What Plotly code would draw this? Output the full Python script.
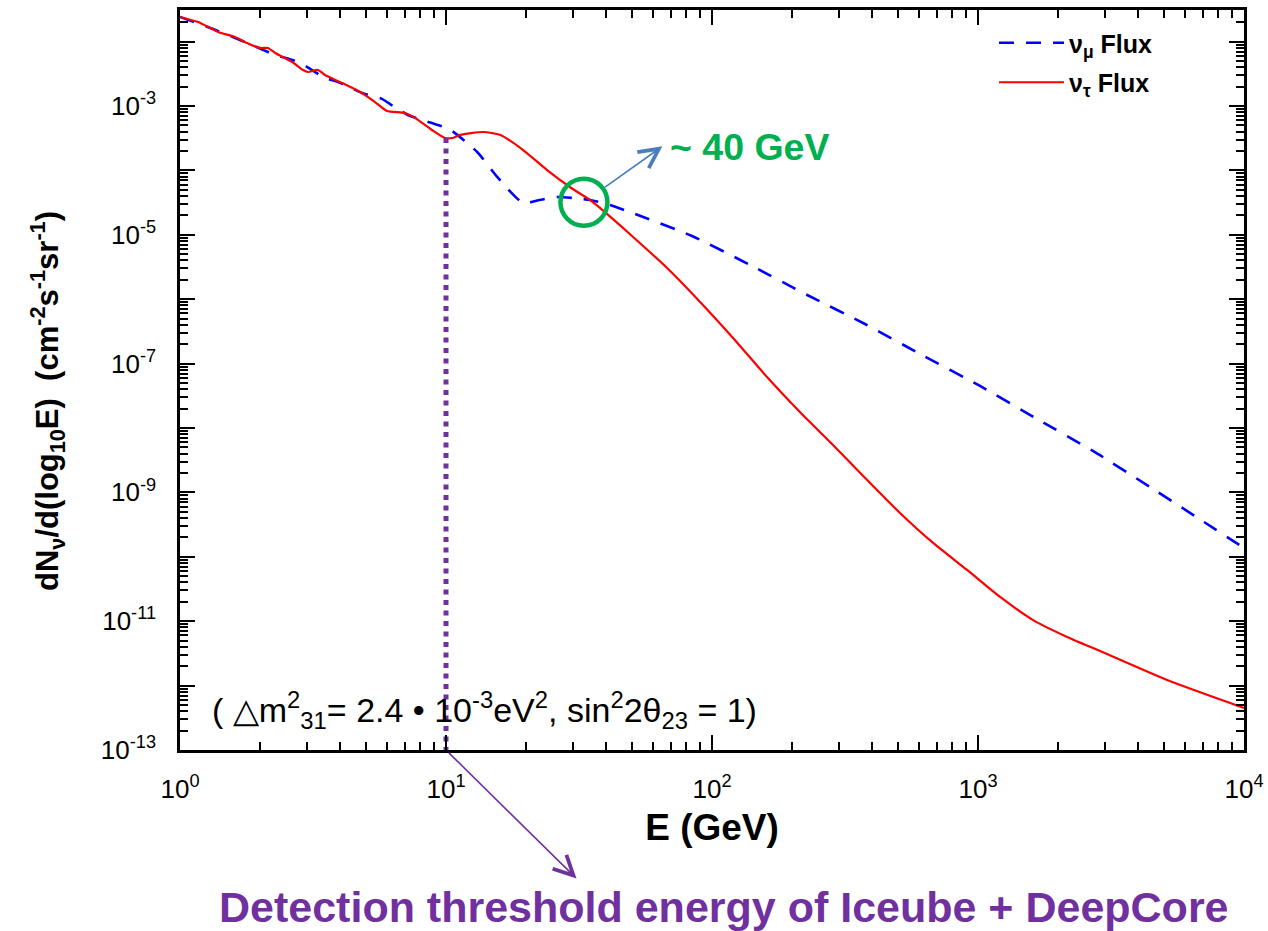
import numpy as np
import plotly.graph_objects as go

# ---------------- data ----------------
numu_E = [1.0, 1.36, 1.68, 2.14, 2.28, 2.78, 3.0, 3.51, 3.93, 4.83, 5.74, 6.32, 7.19,
          8.13, 9.33, 10.4, 13.1, 15.7, 19.5, 22.5, 26.1, 30.0, 34.8, 41.4, 51.4, 84.1,
          139, 228, 376, 615, 1018, 1667, 2704, 4436, 10000]
numu_flux = [2.41e-2, 1.51e-2, 1.06e-2, 6.90e-3, 6.19e-3, 4.82e-3, 4.04e-3, 2.72e-3,
             2.36e-3, 1.59e-3, 1.29e-3, 1.00e-3, 7.24e-4, 6.07e-4, 5.07e-4, 4.24e-4,
             1.93e-4, 7.62e-5, 3.12e-5, 3.47e-5, 3.86e-5, 3.72e-5, 3.47e-5, 2.90e-5,
             2.10e-5, 9.57e-6, 3.40e-6, 1.16e-6, 4.12e-7, 1.36e-7, 4.49e-8, 1.38e-8,
             4.40e-9, 1.21e-9, 1.37e-10]

nutau_E = [1.0, 1.17, 1.39, 1.61, 1.75, 2.0, 2.14, 2.28, 2.64, 2.90, 3.03, 3.30, 3.51,
           4.06, 4.83, 5.41, 6.0, 7.01, 7.64, 8.85, 9.91, 10.6, 11.3, 13.8, 16.0, 19.5,
           24.0, 29.2, 34.8, 37.9, 50.5, 67.8, 90.2, 120, 161, 214, 285, 383, 509, 678,
           910, 1211, 1611, 2163, 2877, 5140, 10000]
nutau_flux = [2.41e-2, 2.01e-2, 1.41e-2, 1.18e-2, 9.86e-3, 7.96e-3, 7.96e-3, 6.65e-3,
              4.82e-3, 3.62e-3, 3.37e-3, 3.62e-3, 3.03e-3, 2.28e-3, 1.59e-3, 1.15e-3,
              8.36e-4, 7.78e-4, 6.52e-4, 4.24e-4, 3.18e-4, 3.18e-4, 3.55e-4, 3.94e-4,
              3.55e-4, 2.07e-4, 1.01e-4, 5.52e-5, 3.47e-5, 2.61e-5, 9.25e-6, 3.05e-6,
              9.06e-7, 2.50e-7, 6.19e-8, 1.77e-8, 5.45e-9, 1.56e-9, 4.79e-10, 1.64e-10,
              6.24e-11, 2.38e-11, 1.04e-11, 5.69e-12, 3.44e-12, 1.22e-12, 4.49e-13]

threshold_E = 10.0          # detection threshold (GeV)
threshold_top = 3.18e-4     # nu_tau flux at threshold
crossing_E = 33.0           # ~40 GeV crossing marker
crossing_flux = 3.2e-5

x_tick_vals = [1, 10, 100, 1000, 10000]
x_tick_text = ["10<sup>0</sup>", "10<sup>1</sup>", "10<sup>2</sup>", "10<sup>3</sup>", "10<sup>4</sup>"]
y_exponents = list(range(-13, -1))
y_tick_vals = [10.0 ** e for e in y_exponents]
y_tick_text = [("10<sup>%d</sup>" % e) if e % 2 else "" for e in y_exponents]

FONT = "Arial, Liberation Sans, sans-serif"
PURPLE = "#7030a0"
GREEN = "#00b050"

x_minor = [k * 10.0 ** d for d in range(0, 4) for k in range(2, 10)]
y_minor = [k * 10.0 ** d for d in range(-13, -1) for k in range(2, 10)]

fig = go.Figure()

fig.add_trace(go.Scatter(
    x=numu_E, y=numu_flux, mode="lines", name="<b>ν<sub>μ</sub> Flux</b>",
    line=dict(color="#0000ff", width=2.6, dash="15px,12px", shape="spline", smoothing=0.6),
    legendgroup="a"))
fig.add_trace(go.Scatter(
    x=nutau_E, y=nutau_flux, mode="lines", name="<b>ν<sub>τ</sub> Flux</b>",
    line=dict(color="#ff0000", width=2.2, shape="spline", smoothing=0.6),
    legendgroup="b"))

# detection threshold dotted line
fig.add_trace(go.Scatter(
    x=[threshold_E, threshold_E], y=[threshold_top, 1e-13], mode="lines",
    line=dict(color=PURPLE, width=5, dash="5px,5.5px"), showlegend=False, hoverinfo="skip"))

# crossing circle
fig.add_trace(go.Scatter(
    x=[crossing_E], y=[crossing_flux], mode="markers",
    marker=dict(symbol="circle-open", size=47, line=dict(color=GREEN, width=4.5), color=GREEN),
    showlegend=False, hoverinfo="skip", cliponaxis=False))

axis_common = dict(
    type="log", showline=True, linecolor="black", linewidth=2.5, mirror="ticks",
    ticks="inside", ticklen=15, tickwidth=2.2, tickcolor="black", showgrid=False,
    zeroline=False, tickfont=dict(family=FONT, size=26, color="black"),
)

fig.update_xaxes(
    **axis_common, range=[0, 4], tickvals=x_tick_vals, ticktext=x_tick_text,
    ticklabelstandoff=14,
    minor=dict(tickmode="array", tickvals=x_minor, ticks="inside", ticklen=8,
               tickwidth=2, tickcolor="black"),
    title=dict(text="<b>E (GeV)</b>", font=dict(family=FONT, size=37, color="black"), standoff=12),
)
fig.update_yaxes(
    **axis_common, range=[-13, -1.51], tickvals=y_tick_vals, ticktext=y_tick_text,
    ticklabelstandoff=16,
    minor=dict(tickmode="array", tickvals=y_minor, ticks="inside", ticklen=8,
               tickwidth=2, tickcolor="black"),
)

annotations = [
    # y-axis title (placed as rotated annotation to match the reference position)
    dict(xref="paper", yref="paper", x=(47 - 180) / 1064, y=(750 - 401) / 740,
         xanchor="center", yanchor="middle", textangle=-90, showarrow=False,
         font=dict(family=FONT, size=31, color="black"),
         text="<b>dN<sub>ν</sub>/d(log<sub>10</sub>E)  (cm<sup>-2</sup>s<sup>-1</sup>sr<sup>-1</sup>)</b>"),
    # oscillation parameters
    dict(xref="paper", yref="paper", x=0.028, y=0.054, xanchor="left", yanchor="middle",
         showarrow=False, font=dict(family=FONT, size=34, color="black"),
         text="( △m<sup>2</sup><sub>31</sub>= 2.4 • 10<sup>-3</sup>eV<sup>2</sup>, sin<sup>2</sup>2θ<sub>23</sub> = 1)"),
    # ~40 GeV label
    dict(xref="paper", yref="paper", x=(668 - 180) / 1064, y=(750 - 147) / 740,
         xanchor="left", yanchor="middle", showarrow=False,
         font=dict(family=FONT, size=37.5, color=GREEN), text="<b>~ 40 GeV</b>"),
    # arrow from circle to label
    dict(xref="x", yref="y", x=np.log10(crossing_E), y=np.log10(crossing_flux), text="",
         showarrow=True, ax=80, ay=-57, axref="pixel", ayref="pixel",
         arrowside="start", startarrowhead=5, startarrowsize=2.4, arrowwidth=1.6,
         arrowcolor="#4a7ebb", standoff=26),
    # arrow from threshold to caption
    dict(xref="x", yref="paper", x=np.log10(threshold_E), y=0, text="",
         showarrow=True, ax=132, ay=130, axref="pixel", ayref="pixel",
         arrowside="start", startarrowhead=5, startarrowsize=2.4, arrowwidth=1.6,
         arrowcolor=PURPLE, standoff=4),
    # caption
    dict(xref="paper", yref="paper", x=(724 - 180) / 1064, y=(750 - 907) / 740,
         xanchor="center", yanchor="middle", showarrow=False,
         font=dict(family=FONT, size=43, color=PURPLE),
         text="<b>Detection threshold energy of Iceube + DeepCore</b>"),
]

fig.update_layout(
    width=1268, height=931,
    margin=dict(l=180, r=24, t=10, b=181, autoexpand=False),
    paper_bgcolor="white", plot_bgcolor="white",
    font=dict(family=FONT, color="black"),
    showlegend=True,
    legend=dict(x=(994 - 180) / 1064, y=(750 - 20) / 740, xanchor="left", yanchor="top",
                bgcolor="rgba(0,0,0,0)", font=dict(family=FONT, size=25, color="black"),
                itemwidth=65, tracegroupgap=4, traceorder="grouped"),
    annotations=annotations,
)

fig.write_html("out.html")
